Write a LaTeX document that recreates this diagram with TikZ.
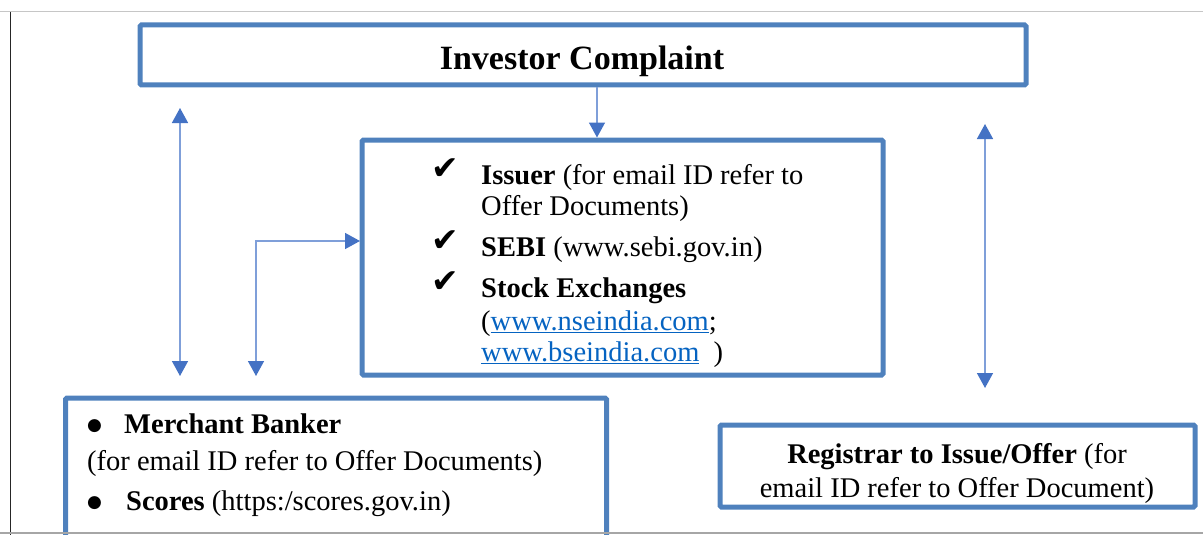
\documentclass[tikz,border=0pt]{standalone}
\usepackage{fontspec}
\setmainfont{Liberation Serif}
\newfontfamily\symfont{DejaVu Sans}
\usetikzlibrary{arrows.meta}
\definecolor{boxblue}{HTML}{4F81BD}
\definecolor{tipblue}{HTML}{4472C4}
\definecolor{lineblue}{HTML}{7F9FD9}
\definecolor{linkblue}{HTML}{0563C1}
\newcommand{\weblink}[1]{\textcolor{linkblue}{\underline{#1}}}

\begin{document}
\begin{tikzpicture}[x=1pt,y=-1pt,
    panel/.style={draw=boxblue,line width=5pt,rounded corners=1.5pt,inner sep=0pt},
    txt/.style={anchor=base west,inner sep=0pt,font=\fontsize{28.5}{34}\selectfont},
    checkmark/.style={anchor=base west,inner sep=0pt,font=\fontsize{33}{36}\symfont},
    bigdot/.style={anchor=base west,inner sep=0pt,font=\fontsize{17}{20}\symfont},
    oneway/.style={draw=lineblue,line width=1.5pt,-{Triangle[width=16pt,length=15pt,color=tipblue]}},
    twoway/.style={draw=lineblue,line width=1.5pt,{Triangle[width=16pt,length=15pt,color=tipblue]}-{Triangle[width=16pt,length=15pt,color=tipblue]}}]
  \useasboundingbox (0,0) rectangle (1203,535);
  % page frame
  \draw[gray!45,line width=1pt] (0,12) -- (1203,12);
  \draw[black!85,line width=1.5pt] (10.5,12) -- (10.5,535);

  % boxes
  \node[panel,minimum width=886pt,minimum height=60pt] (complaint) at (583,55) {};
  \node[anchor=base,inner sep=0pt,font=\fontsize{34}{40}\selectfont\bfseries] (title) at (582,70) {Investor Complaint};
  \node[panel,minimum width=521pt,minimum height=235pt] (issuer) at (622.5,257.5) {};
  \node[panel,minimum width=541pt,minimum height=160pt] (banker) at (336,478) {};
  \node[panel,minimum width=475pt,minimum height=82pt] (registrar) at (957.5,466) {};
  \draw[gray!70,line width=1.5pt] (0,533) -- (1203,533);

  % middle box text
  \node[checkmark] (chk1) at (431,179) {✔};
  \node[txt] (iss1) at (481,184) {\textbf{Issuer} (for email ID refer to};
  \node[txt] (iss2) at (481,215) {Offer Documents)};
  \node[checkmark] (chk2) at (431,251) {✔};
  \node[txt] (sebi) at (481,256) {\textbf{SEBI} (www.sebi.gov.in)};
  \node[checkmark] (chk3) at (431,292) {✔};
  \node[txt] (stock1) at (481,297) {\textbf{Stock Exchanges}};
  \node[txt] (stock2) at (481,330) {(\weblink{www.nseindia.com};};
  \node[txt] (stock3) at (481,361) {\weblink{www.bseindia.com}\ \ )};

  % lower left box text
  \node[bigdot] (dot1) at (87,430) {●};
  \node[txt] (merch) at (124,433) {\textbf{Merchant Banker}};
  \node[txt] (merch2) at (87,470) {(for email ID refer to Offer Documents)};
  \node[bigdot] (dot2) at (87,507) {●};
  \node[txt] (scores) at (126,510) {\textbf{Scores} (https:/scores.gov.in)};

  % lower right box text
  \node[txt,anchor=base] (reg1) at (957,463) {\textbf{Registrar to Issue/Offer} (for};
  \node[txt,anchor=base] (reg2) at (957,497) {email ID refer to Offer Document)};

  % connectors
  \coordinate (lefttop) at (180,108);
  \coordinate (leftbot) at (180,376);
  \coordinate (elbowbot) at (256,376);
  \coordinate (elbowend) at (360,241);
  \coordinate (righttop) at (985,124);
  \coordinate (rightbot) at (985,388);
  \draw[twoway] (lefttop) -- (leftbot);
  \draw[twoway] (elbowbot) |- (elbowend);
  \draw[oneway] (complaint.south -| 597,0) -- (issuer.north -| 597,0);
  \draw[twoway] (righttop) -- (rightbot);
\end{tikzpicture}
\end{document}
